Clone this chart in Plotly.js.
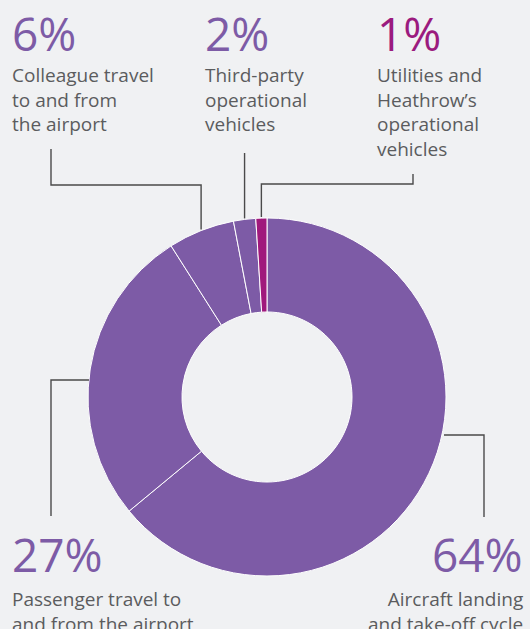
<!DOCTYPE html>
<html>
<head>
<meta charset="utf-8">
<script src="https://cdn.plot.ly/plotly-3.0.1.min.js"></script>
<style>html,body{margin:0;padding:0;background:#f0f1f3;}#chart{width:530px;height:629px;}</style>
</head>
<body>
<div id="chart"></div>
<script>
// Data
const categories = ["Aircraft landing and take-off cycle", "Passenger travel to and from the airport", "Colleague travel to and from the airport", "Third-party operational vehicles", "Utilities and Heathrow’s operational vehicles"];
const shares = [64, 27, 6, 2, 1];
const labelTexts = ["Aircraft landing<br>and take-off cycle", "Passenger travel to<br>and from the airport", "Colleague travel<br>to and from<br>the airport", "Third-party<br>operational<br>vehicles", "Utilities and<br>Heathrow’s<br>operational<br>vehicles"];

const W = 530, H = 629;
const purple = "#7d5ba6", magenta = "#a0197c", grey = "#5b5c5e", lineCol = "#4a4a4a";
const sliceColors = [purple, purple, purple, purple, magenta];
const pctColors = [purple, purple, purple, purple, "#9b1b7e"];

// geometry helpers (pixel -> paper)
const px = x => x / W, py = y => 1 - y / H;
const cx = 267, cy = 397, R = 179;

const trace = {
  type: "pie",
  values: shares,
  labels: categories,
  sort: false,
  direction: "clockwise",
  rotation: 0,
  hole: 0.475,
  textinfo: "none",
  hoverinfo: "label+percent",
  marker: { colors: sliceColors, line: { color: "#ffffff", width: 1 } },
  domain: { x: [px(cx - R), px(cx + R)], y: [py(cy + R), py(cy - R)] },
  showlegend: false
};

// slice mid angles (deg clockwise from 12 o'clock) computed from data
const total = shares.reduce((a, b) => a + b, 0);
let acc = 0;
const mids = shares.map(v => { const m = (acc + v / 2) / total * 360; acc += v; return m; });
const onRim = a => [cx + R * Math.sin(a * Math.PI / 180), cy - R * Math.cos(a * Math.PI / 180)];

const pC = onRim(mids[2]), pT = onRim(mids[3]), pU = onRim(mids[4]);
const paths = [
  [[51, 149], [51, 185], [pC[0], 185], [pC[0], pC[1] - 1]],
  [[pT[0], 153], [pT[0], pT[1] - 1]],
  [[413, 174], [413, 184], [pU[0], 184], [pU[0], pU[1] - 1]],
  [[51, 516], [51, 380], [89, 380]],
  [[484, 517], [484, 435], [444, 435]]
];
const shapes = paths.map(pts => ({
  type: "path", xref: "paper", yref: "paper",
  path: pts.map((p, i) => (i ? "L" : "M") + px(p[0]) + "," + py(p[1])).join(" "),
  line: { color: lineCol, width: 1.4 }
}));

const font = "Open Sans, Noto Sans, sans-serif";
// [index, x, pctTop, labelTop, anchor]
const place = [
  [0, 525, 521, 584, "right"],
  [1, 10, 521, 584, "left"],
  [2, 10, 0, 60, "left"],
  [3, 203, 0, 60, "left"],
  [4, 375, 0, 60, "left"]
];
const annotations = [];
place.forEach(([i, x, pt, lt, anc]) => {
  annotations.push({
    xref: "paper", yref: "paper", x: px(x), y: py(pt), xanchor: anc, yanchor: "top",
    text: shares[i] + "%", showarrow: false, align: anc,
    font: { family: font, size: 46, color: pctColors[i] }
  });
  annotations.push({
    xref: "paper", yref: "paper", x: px(x), y: py(lt), xanchor: anc, yanchor: "top",
    text: labelTexts[i], showarrow: false, align: anc,
    font: { family: font, size: 19, color: grey }
  });
});

const layout = {
  width: W, height: H,
  margin: { l: 0, r: 0, t: 0, b: 0 },
  paper_bgcolor: "#f0f1f3", plot_bgcolor: "#f0f1f3",
  shapes: shapes, annotations: annotations
};
Plotly.newPlot("chart", [trace], layout, { displayModeBar: false, staticPlot: true });
</script>
</body>
</html>
